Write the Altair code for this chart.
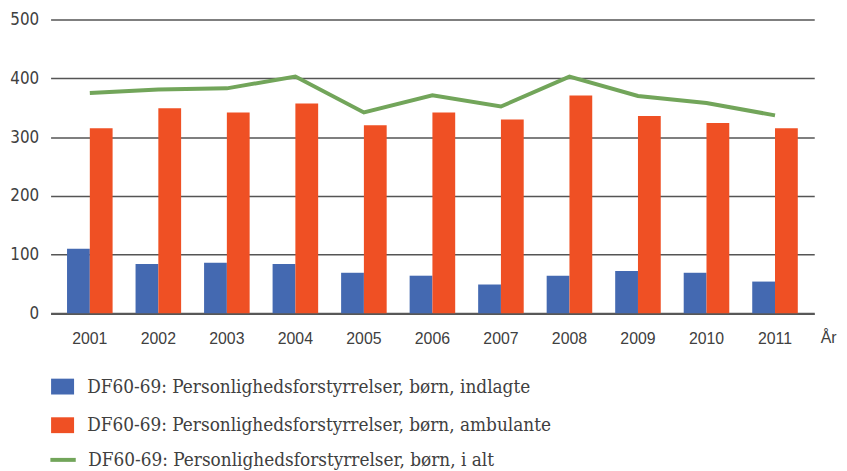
import altair as alt
import pandas as pd

years = ["2001", "2002", "2003", "2004", "2005", "2006", "2007", "2008", "2009", "2010", "2011"]
indlagte = [110, 84, 86, 84, 69, 64, 49, 64, 72, 69, 54]
ambulante = [315, 349, 342, 357, 320, 342, 330, 371, 336, 324, 315]
i_alt = [375, 381, 383, 403, 342, 371, 352, 403, 370, 358, 337]

s_ind = "DF60-69: Personlighedsforstyrrelser, børn, indlagte"
s_amb = "DF60-69: Personlighedsforstyrrelser, børn, ambulante"
s_tot = "DF60-69: Personlighedsforstyrrelser, børn, i alt"

bars_df = pd.DataFrame(
    [{"year": y, "series": s_ind, "value": v} for y, v in zip(years, indlagte)]
    + [{"year": y, "series": s_amb, "value": v} for y, v in zip(years, ambulante)]
)
line_df = pd.DataFrame({"year": years, "total": i_alt, "label": [s_tot] * len(years)})

SANS = "Liberation Sans, Arial, sans-serif"
YFONT = "DejaVu Sans Condensed, DejaVu Sans, sans-serif"
LEGFONT = "DejaVu Serif Condensed, DejaVu Serif, serif"
TXT = "#404040"

x_enc = alt.X(
    "year:N",
    sort=years,
    scale=alt.Scale(paddingInner=0.335, paddingOuter=0.24),
    axis=alt.Axis(
        title="År",
        titleX=777,
        titleY=16,
        titleAlign="left",
        titleBaseline="top",
        titleAnchor=None,
        titleFontSize=16,
        titleFontWeight="normal",
        titleColor=TXT,
        titleFont=SANS,
        labelAngle=0,
        labelFontSize=16,
        labelFont=SANS,
        labelColor=TXT,
        labelBaseline="top",
        labelPadding=18,
        ticks=False,
        domainColor="#595959",
        domainWidth=2,
        grid=False,
    ),
)

y_enc = alt.Y(
    "value:Q",
    scale=alt.Scale(domain=[0, 500], nice=False),
    axis=alt.Axis(
        title=None,
        values=[0, 100, 200, 300, 400, 500],
        domain=False,
        ticks=False,
        labelFontSize=17,
        labelFont=YFONT,
        labelColor=TXT,
        labelPadding=12,
        grid=True,
        gridColor="#555555",
        gridWidth=1.5,
    ),
)

bars = alt.Chart(bars_df).mark_bar().encode(
    x=x_enc,
    xOffset=alt.XOffset("series:N", sort=[s_ind, s_amb], scale=alt.Scale(paddingInner=0, paddingOuter=0)),
    y=y_enc,
    fill=alt.Fill(
        "series:N",
        sort=[s_ind, s_amb],
        scale=alt.Scale(domain=[s_ind, s_amb], range=["#4469B1", "#EF5024"]),
        legend=alt.Legend(
            title=None,
            orient="none",
            legendX=2.6,
            legendY=361,
            direction="vertical",
            symbolType="M-1.45,-1H1.45V1H-1.45Z",
            symbolSize=256,
            symbolStrokeWidth=0,
            labelFontSize=19,
            labelFont=LEGFONT,
            labelColor=TXT,
            labelOffset=15.4,
            labelLimit=800,
            rowPadding=19,
            padding=0,
        ),
    ),
)

line = alt.Chart(line_df).mark_line(strokeWidth=4).encode(
    x=alt.X("year:N", sort=years),
    y=alt.Y("total:Q"),
    stroke=alt.Stroke(
        "label:N",
        scale=alt.Scale(domain=[s_tot], range=["#72A55A"]),
        legend=alt.Legend(
            title=None,
            orient="none",
            legendX=2.6,
            legendY=434.5,
            direction="vertical",
            symbolType="M-1.6,0H1.6",
            symbolSize=256,
            symbolStrokeWidth=4,
            labelFontSize=19,
            labelFont=LEGFONT,
            labelColor=TXT,
            labelOffset=15.4,
            labelLimit=800,
            padding=0,
        ),
    ),
)

chart = (
    alt.layer(bars, line)
    .properties(
        width=771,
        height=296.5,
        autosize=alt.AutoSizeParams(type="none"),
        padding={"left": 43, "top": 9.5, "right": 25, "bottom": 157},
        background="white",
    )
    .configure_view(strokeWidth=0, stroke="transparent")
)

chart.save("out.html", embed_options={"renderer": "svg", "actions": False})
